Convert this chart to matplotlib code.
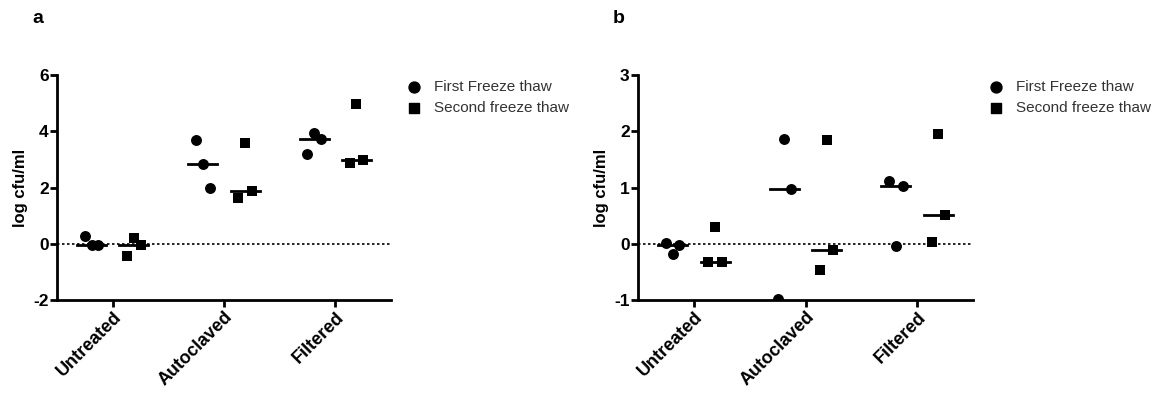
import matplotlib.pyplot as plt
import numpy as np

plt.rcParams['font.family'] = ['Liberation Sans', 'DejaVu Sans']
plt.rcParams['axes.unicode_minus'] = False

categories = ['Untreated', 'Autoclaved', 'Filtered']

# panel a: log cfu/ml, three replicates per group
a_first = [[0.29, -0.06, -0.06], [3.69, 2.83, 2.00], [3.19, 3.93, 3.73]]
a_second = [[-0.45, 0.21, -0.03], [1.62, 3.57, 1.86], [2.86, 4.96, 2.98]]

# panel b
b_first = [[0.02, -0.18, -0.03], [-0.98, 1.86, 0.97], [1.11, -0.04, 1.02]]
b_second = [[-0.33, 0.29, -0.33], [-0.46, 1.85, -0.11], [0.04, 1.95, 0.52]]

jitter = [-0.06, 0.0, 0.06]


def draw_panel(ax, first, second, ylim, yticks, letter):
    x = np.arange(len(categories))
    for i in x:
        for vals, off, mk in [(first[i], -0.19, 'o'), (second[i], 0.19, 's')]:
            ax.scatter(i + off + np.array(jitter), vals, marker=mk, s=62,
                       color='black', zorder=3, linewidths=0)
            med = np.median(vals)
            ax.plot([i + off - 0.13, i + off + 0.13], [med, med],
                    color='black', lw=2, zorder=2)
    ax.axhline(0, color='black', lw=1.2, ls=(0, (1.5, 1.5)), zorder=1)
    ax.set_xlim(-0.5, 2.5)
    ax.set_ylim(*ylim)
    ax.set_yticks(yticks)
    ax.set_xticks(x)
    ax.set_xticklabels(categories, rotation=45, ha='right',
                       rotation_mode='anchor', fontweight='bold', fontsize=13)
    for lab in ax.get_yticklabels():
        lab.set_fontweight('bold')
        lab.set_fontsize(12.5)
    ax.set_ylabel('log cfu/ml', fontweight='bold', fontsize=12)
    ax.spines['top'].set_visible(False)
    ax.spines['right'].set_visible(False)
    ax.spines['left'].set_linewidth(2)
    ax.spines['bottom'].set_linewidth(2)
    ax.tick_params(width=2, length=5, pad=1)
    ax.scatter([], [], marker='o', s=62, color='black', label='First Freeze thaw')
    ax.scatter([], [], marker='s', s=62, color='black', label='Second freeze thaw')
    ax.legend(loc='upper left', bbox_to_anchor=(1.0, 1.01), frameon=False,
              fontsize=11, handletextpad=0.3, labelspacing=0.45,
              borderpad=0, labelcolor='#333333')
    ax.text(-0.057, 1.253, letter, transform=ax.transAxes, fontsize=14,
            fontweight='bold', ha='center', va='center')


fig = plt.figure(figsize=(11.66, 3.99), dpi=100)
ax1 = fig.add_axes([0.0489, 0.248, 0.2864, 0.564])
ax2 = fig.add_axes([0.5472, 0.248, 0.2873, 0.564])

draw_panel(ax1, a_first, a_second, (-2, 6), [-2, 0, 2, 4, 6], 'a')
draw_panel(ax2, b_first, b_second, (-1, 3), [-1, 0, 1, 2, 3], 'b')

fig.savefig('out.png', dpi=100)
